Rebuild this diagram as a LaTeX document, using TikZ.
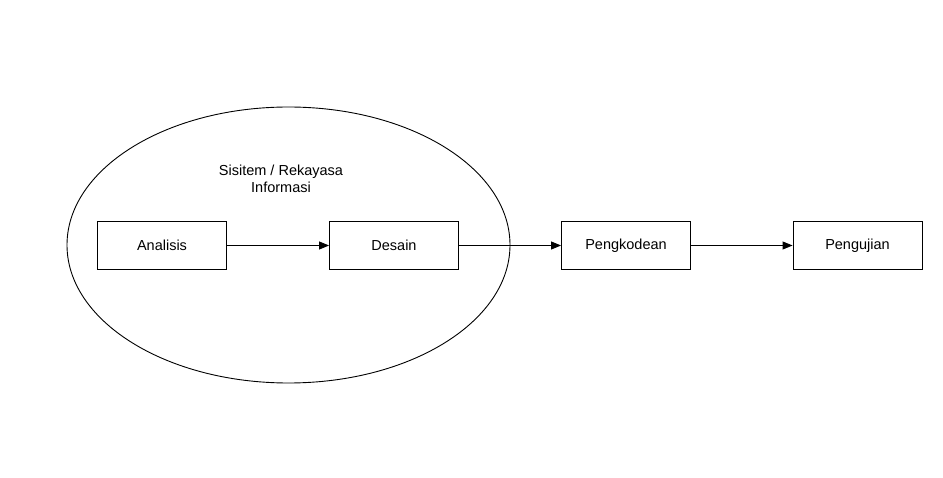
\documentclass[tikz,border=0pt]{standalone}
\usepackage{fontspec}
\setmainfont{Liberation Sans}
\usetikzlibrary{arrows.meta,shapes.geometric}
\begin{document}
\begin{tikzpicture}[x=1pt,y=-1pt,
  box/.style={draw,line width=0.9pt,minimum width=129pt,minimum height=48pt,inner sep=0pt,font=\fontsize{14.5}{17}\selectfont},
  conn/.style={line width=0.9pt,-{Triangle[length=10pt,width=8pt]}}]
\useasboundingbox (0,0) rectangle (943,478);
\node[draw,ellipse,line width=0.9pt,minimum width=443pt,minimum height=276pt,inner sep=0pt] (sys) at (288.5,245) {};
\node[align=center,font=\fontsize{14.5}{17}\selectfont] (lbl) at (281,178.5) {Sisitem / Rekayasa\\Informasi};
\node[box] (a) at (162,245.5) {Analisis};
\node[box] (d) at (394,245.5) {Desain};
\node[box] (p) at (626,245.5) {Pengkodean};
\node[box] (u) at (857.5,245.5) {Pengujian};
\draw[conn] (a) -- (d);
\draw[conn] (d) -- (p);
\draw[conn] (p) -- (u);
\end{tikzpicture}
\end{document}
